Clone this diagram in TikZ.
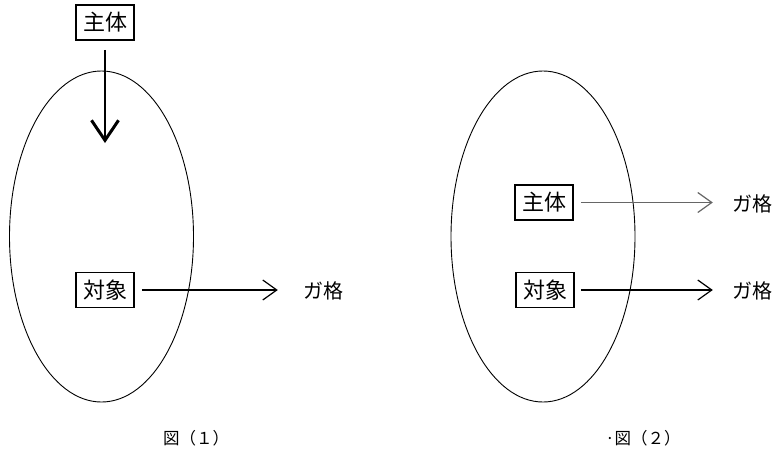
\documentclass[tikz,border=0pt]{standalone}
\usepackage{fontspec}
\newfontfamily\jp{Noto Sans CJK JP}
\usetikzlibrary{arrows.meta}

\tikzset{
  termbox/.style={draw, line width=1.6pt, minimum width=58pt, minimum height=35pt,
    inner sep=0pt, font=\jp\fontsize{22}{22}\selectfont},
  caselabel/.style={inner sep=0pt, font=\jp\fontsize{20}{20}\selectfont},
  figlabel/.style={inner sep=0pt, font=\jp\fontsize{16.5}{16.5}\selectfont},
  domainline/.style={draw, line width=0.9pt},
  casearrow/.style={line width=1.2pt,
    -{Straight Barb[length=14pt, width=20pt, line width=1.2pt]}},
  entryarrow/.style={line width=2pt,
    -{Straight Barb[length=20pt, width=27pt, line width=3pt]}}
}

\begin{document}
\begin{tikzpicture}[x=1pt, y=-1pt]
  \useasboundingbox (0,0) rectangle (776,453);

  % figure (1): the subject enters the domain from outside
  \draw[domainline] (101.5,236.5) ellipse [x radius=92, y radius=165.5];
  \node[termbox] (s1) at (105,22.5) {主体};
  \coordinate (s1tip) at (105,143);
  \draw[entryarrow, shorten <=9pt] (s1.south) -- (s1tip);

  \node[termbox] (o1) at (105,290) {対象};
  \node[caselabel] (g1) at (323,291) {ガ格};
  \draw[casearrow, shorten <=7pt, shorten >=25pt] (o1.east) -- (g1.west |- o1.east);

  \node[figlabel] (f1) at (196,438) {図（１）};

  % figure (2): subject and object both inside the domain
  \draw[domainline] (543,236.5) ellipse [x radius=92, y radius=165.5];
  \node[termbox] (s2) at (544,202.5) {主体};
  \node[termbox] (o2) at (545,290) {対象};
  \node[caselabel] (g2a) at (752,203.5) {ガ格};
  \node[caselabel] (g2b) at (752,291) {ガ格};
  \draw[casearrow, black!60, shorten <=7pt, shorten >=19pt] (s2.east) -- (g2a.west |- s2.east);
  \draw[casearrow, shorten <=6pt, shorten >=19pt] (o2.east) -- (g2b.west |- o2.east);

  \node[figlabel] (f2) at (643,438) {·図（２）};
\end{tikzpicture}
\end{document}
